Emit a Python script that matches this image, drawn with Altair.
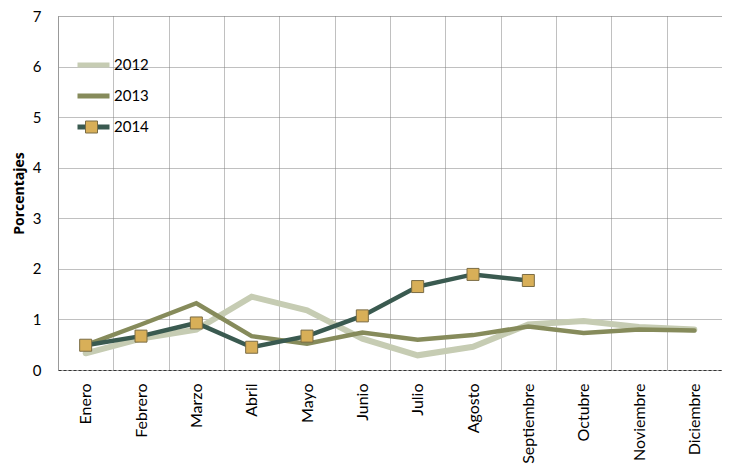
import altair as alt
import pandas as pd

months = ["Enero", "Febrero", "Marzo", "Abril", "Mayo", "Junio", "Julio",
          "Agosto", "Septiembre", "Octubre", "Noviembre", "Diciembre"]
years = ["2012", "2013", "2014"]
v2012 = [0.33, 0.62, 0.80, 1.45, 1.18, 0.62, 0.29, 0.46, 0.90, 0.97, 0.85, 0.80]
v2013 = [0.49, 0.90, 1.32, 0.67, 0.52, 0.74, 0.60, 0.69, 0.86, 0.73, 0.80, 0.78]
v2014 = [0.49, 0.67, 0.93, 0.45, 0.67, 1.07, 1.65, 1.89, 1.77]
colors = ["#C6CCB3", "#868B5B", "#3A5A50"]

rows = []
for yr, vals in zip(years, [v2012, v2013, v2014]):
    for m, v in zip(months, vals):
        rows.append({"mes": m, "anio": yr, "valor": v})
df = pd.DataFrame(rows)

FONT = "Lato"

x = alt.X("mes:O", sort=months,
          scale=alt.Scale(type="band", paddingInner=0, paddingOuter=0),
          axis=alt.Axis(title=None, labelAngle=-90, tickBand="extent", grid=True,
                        ticks=False, labelPadding=13, labelFontSize=16, labelFont=FONT,
                        labelColor="black", domainColor="#333", domainDash=[3, 2],
                        gridColor="#808080", gridDash=[1, 1]))
y = alt.Y("valor:Q", scale=alt.Scale(domain=[0, 7], nice=False),
          axis=alt.Axis(values=list(range(8)), title="Porcentajes", titleFont="Open Sans",
                        titleFontWeight="bold", titleFontSize=14, titleColor="black",
                        titlePadding=6, ticks=False, labelPadding=17, labelFontSize=15,
                        labelFont=FONT, labelColor="black", domainColor="#999",
                        gridColor="#808080", gridDash=[1, 1]))
color = alt.Color("anio:N", scale=alt.Scale(domain=years, range=colors),
                  legend=alt.Legend(orient="none", legendX=17, legendY=39, title=None,
                                    symbolType="stroke", symbolSize=1024,
                                    symbolStrokeWidth=5, labelFontSize=15, labelFont=FONT,
                                    labelColor="black", clipHeight=20, rowPadding=11,
                                    labelOffset=2, padding=0))

base = alt.Chart(df)
l12 = base.transform_filter(alt.datum.anio == "2012").mark_line(
    strokeWidth=6, strokeCap="round").encode(x=x, y=y, color=color)
l13 = base.transform_filter(alt.datum.anio == "2013").mark_line(
    strokeWidth=4.5, strokeCap="round").encode(x=x, y=y, color=color)
l14 = base.transform_filter(alt.datum.anio == "2014").mark_line(
    strokeWidth=4.5, strokeCap="round").encode(x=x, y=y, color=color)
pts = base.transform_filter(alt.datum.anio == "2014").mark_square(
    size=144, stroke="#7A6C45", strokeWidth=1, opacity=1).encode(
    x=x, y=y,
    fill=alt.Fill("anio:N", scale=alt.Scale(domain=["2014"], range=["#D8AF58"]),
                  legend=alt.Legend(orient="none", legendX=27, legendY=101, title=None,
                                    symbolType="square", symbolSize=144,
                                    symbolStrokeColor="#7A6C45", symbolStrokeWidth=1,
                                    symbolOpacity=1, labelExpr="''", clipHeight=20,
                                    padding=0)))

chart = alt.layer(l12, l13, l14, pts).properties(
    width=664, height=354,
    autosize=alt.AutoSizeParams(type="none"),
    padding={"left": 50, "top": 8, "right": 0, "bottom": 94},
).configure_view(fill="#F6EFDE", stroke=None).configure(background="white")

chart.save("out.html", embed_options={"renderer": "svg", "actions": False})
